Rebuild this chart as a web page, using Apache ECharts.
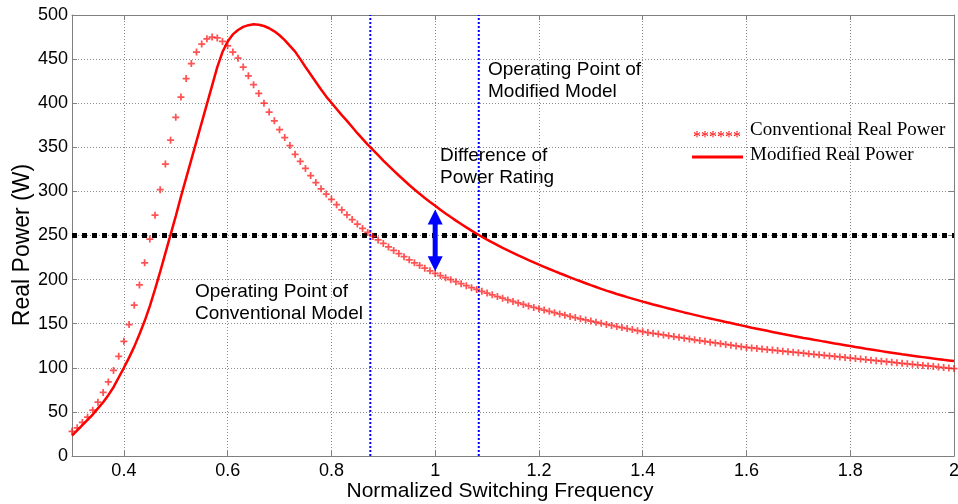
<!DOCTYPE html>
<html>
<head>
<meta charset="utf-8">
<script src="https://cdn.jsdelivr.net/npm/echarts@6/dist/echarts.min.js"></script>
<style>
  html, body { margin: 0; padding: 0; background: #fff; }
  #chart { width: 958px; height: 504px; }
</style>
</head>
<body>
<div id="chart"></div>
<script>
// Normalized switching frequency grid: 0.30 .. 2.00, one sample every 0.01
const FREQ_START = 0.30;
const FREQ_STEP = 0.01;

// Real power (W), conventional model, one value per frequency sample
const conventionalPower = [
  28, 32, 38, 44, 52, 61, 72, 84, 97, 113,
  130, 149, 171, 194, 219, 246, 273, 302, 331, 358,
  384, 407, 428, 445, 458, 467, 473, 475, 474, 470,
  465, 458, 451, 441, 431, 421, 411, 400, 390, 380,
  370, 361, 352, 342, 334, 326, 318, 310, 303, 297,
  291, 285, 279, 273.5, 268, 263, 258, 253.5, 249, 245,
  241, 237, 233, 229.5, 226, 222.5, 219, 216, 213, 210,
  207, 204.6, 202.2, 199.9, 197.6, 195.3, 193.1, 190.9, 188.8, 186.7,
  184.7, 182.7, 180.8, 178.9, 177.0, 175.2, 173.5, 171.8, 170.1, 168.5,
  167.0, 165.5, 164.0, 162.5, 161.1, 159.7, 158.3, 156.9, 155.6, 154.3,
  153.0, 151.7, 150.4, 149.2, 148.0, 146.8, 145.6, 144.5, 143.3, 142.1,
  141.0, 140.0, 139.1, 138.2, 137.3, 136.3, 135.4, 134.5, 133.6, 132.7,
  131.8, 130.9, 130.0, 129.1, 128.2, 127.4, 126.5, 125.6, 124.8, 123.9,
  123.1, 122.5, 121.9, 121.3, 120.7, 120.1, 119.5, 118.9, 118.3, 117.7,
  117.1, 116.5, 115.9, 115.3, 114.7, 114.1, 113.5, 112.9, 112.3, 111.7,
  111.1, 110.5, 109.9, 109.3, 108.7, 108.1, 107.5, 106.9, 106.3, 105.7,
  105.1, 104.5, 103.9, 103.3, 102.7, 102.1, 101.5, 100.9, 100.3, 99.7,
  99.1
];

// Real power (W), modified model, same frequency samples
const modifiedPower = [
  23, 29, 35, 41, 47, 54, 61, 69, 78, 89,
  100, 111.5, 124, 138, 153, 170, 189, 209, 230, 251,
  272, 294, 315, 336, 357, 378, 399, 420, 441, 458,
  470, 478, 483, 486.5, 488.5, 489.5, 489, 487.5, 485, 481.5,
  477, 471.5, 465, 458.5, 450, 441, 432.5, 424, 415.5, 407.5,
  400.5, 393.5, 386.5, 380, 373, 366, 359.5, 353, 347, 341,
  335, 329.2, 323.5, 318, 312.6, 307.3, 302.2, 297.3, 292.5, 288,
  283.6, 279.2, 275, 270.9, 266.9, 263, 259.2, 255.5, 252, 248.6,
  245.3, 242.1, 239, 236, 233.1, 230.3, 227.5, 224.8, 222.2, 219.6,
  217, 214.5, 212, 209.6, 207.2, 204.9, 202.6, 200.3, 198.1, 195.9,
  193.7, 191.6, 189.5, 187.5, 185.6, 183.7, 181.9, 180.1, 178.4, 176.7,
  175, 173.4, 171.8, 170.3, 168.8, 167.3, 165.8, 164.3, 162.8, 161.4,
  160.0, 158.6, 157.2, 155.9, 154.6, 153.3, 152.0, 150.7, 149.4, 148.1,
  146.8, 145.5, 144.3, 143.1, 141.9, 140.7, 139.5, 138.3, 137.2, 136.1,
  135.0, 133.9, 132.9, 131.8, 130.8, 129.7, 128.7, 127.6, 126.6, 125.6,
  124.6, 123.6, 122.7, 121.7, 120.8, 119.8, 118.9, 118.0, 117.1, 116.2,
  115.3, 114.5, 113.7, 112.9, 112.1, 111.3, 110.5, 109.8, 109.0, 108.3,
  107.6
];

const freqRange = [0.3, 2];
const xTicks = [0.4, 0.6, 0.8, 1, 1.2, 1.4, 1.6, 1.8, 2];
const ratedPower = 250;                 // required power rating (W)
const operatingFreqs = [0.875, 1.084];  // conventional / modified operating points
const gapFreq = 1.0;                    // where the rating difference is marked
const gapArrow = [218, 271];            // arrow ends (W)

const freq = conventionalPower.map((_, i) => +(FREQ_START + i * FREQ_STEP).toFixed(2));
const toPairs = ys => ys.map((y, i) => [freq[i], y]);

const SANS = '"Liberation Sans", Arial, Helvetica, sans-serif';
const SERIF = '"Liberation Serif", "Times New Roman", serif';
const axisGrey = '#7f7f7f';
const gridLine = { show: true, lineStyle: { color: '#8c8c8c', width: 1, type: [1, 2] } };
const tickStyle = { show: true, inside: true, length: 5, lineStyle: { color: axisGrey } };
const plusPath = 'path://M3,0H5V3H8V5H5V8H3V5H0V3H3Z';

const chart = echarts.init(document.getElementById('chart'), null, { renderer: 'canvas' });

const option = {
  animation: false,
  backgroundColor: '#fff',
  grid: { left: 72, right: 4, top: 15, bottom: 48, containLabel: false, outerBoundsMode: 'none' },
  xAxis: [
    {
      type: 'value', position: 'bottom', min: freqRange[0], max: freqRange[1],
      name: 'Normalized Switching Frequency', nameLocation: 'middle', nameGap: 25,
      nameMoveOverlap: false,
      nameTextStyle: { fontFamily: SANS, fontSize: 21, color: '#000', padding: [0, 26, 0, 0] },
      axisLine: { show: true, onZero: false, lineStyle: { color: axisGrey } },
      axisTick: Object.assign({ customValues: xTicks }, tickStyle),
      axisLabel: { customValues: xTicks, margin: 6, fontFamily: SANS, fontSize: 18, color: '#000' },
      splitLine: gridLine
    },
    {
      type: 'value', position: 'top', min: freqRange[0], max: freqRange[1],
      axisLine: { show: true, onZero: false, lineStyle: { color: axisGrey } },
      axisTick: Object.assign({ customValues: xTicks }, tickStyle),
      axisLabel: { show: false },
      splitLine: { show: false }
    }
  ],
  yAxis: [
    {
      type: 'value', position: 'left', min: 0, max: 500, interval: 50,
      name: 'Real Power (W)', nameLocation: 'middle', nameGap: 38,
      nameMoveOverlap: false,
      nameTextStyle: { fontFamily: SANS, fontSize: 23, color: '#000', padding: [0, 19, 0, 0] },
      axisLine: { show: true, onZero: false, lineStyle: { color: axisGrey } },
      axisTick: tickStyle,
      axisLabel: { margin: 4, fontFamily: SANS, fontSize: 18, color: '#000' },
      splitLine: gridLine
    },
    {
      type: 'value', position: 'right', min: 0, max: 500, interval: 50,
      axisLine: { show: true, onZero: false, lineStyle: { color: axisGrey } },
      axisTick: tickStyle,
      axisLabel: { show: false },
      splitLine: { show: false }
    }
  ],
  series: [
    {
      name: 'Rated Power', type: 'line', symbol: 'none', silent: true, z: 2,
      data: [[freqRange[0], ratedPower], [freqRange[1], ratedPower]],
      lineStyle: { color: '#000', width: 5, type: [5, 5], cap: 'butt' }
    },
    ...operatingFreqs.map(f => ({
      type: 'line', symbol: 'none', silent: true, z: 3,
      data: [[f, 0], [f, 500]],
      lineStyle: { color: '#0000ff', width: 2, type: [2, 2] }
    })),
    {
      name: 'Conventional Real Power', type: 'scatter', z: 4,
      symbol: plusPath, symbolSize: 7,
      itemStyle: { color: '#ff1a1a', opacity: 0.75 },
      data: toPairs(conventionalPower)
    },
    {
      name: 'Modified Real Power', type: 'line', symbol: 'none', showSymbol: false, z: 5,
      lineStyle: { color: '#ff0000', width: 2.5 },
      data: toPairs(modifiedPower)
    },
    {
      name: 'Difference', type: 'line', z: 6, silent: true,
      symbol: 'triangle', symbolSize: 15, showSymbol: true,
      itemStyle: { color: '#0000ff' },
      lineStyle: { color: '#0000ff', width: 5 },
      data: [
        { value: [gapFreq, gapArrow[0]], symbolRotate: 180 },
        { value: [gapFreq, gapArrow[1]] }
      ]
    }
  ],
  graphic: [
    { type: 'text', left: 488, top: 59, z: 10,
      style: { text: 'Operating Point of\nModified Model', font: '19px ' + SANS, lineHeight: 22, fill: '#000' } },
    { type: 'text', left: 440, top: 145, z: 10,
      style: { text: 'Difference of\nPower Rating', font: '19px ' + SANS, lineHeight: 22, fill: '#000' } },
    { type: 'text', left: 195, top: 281, z: 10,
      style: { text: 'Operating Point of\nConventional Model', font: '19px ' + SANS, lineHeight: 22, fill: '#000' } },
    // legend
    { type: 'text', left: 693, top: 130, z: 10,
      style: { text: '******', font: '16px ' + SERIF, lineHeight: 16, fill: '#ff0000' } },
    { type: 'line', z: 10, shape: { x1: 692, y1: 157, x2: 743, y2: 157 },
      style: { stroke: '#ff0000', lineWidth: 3 } },
    { type: 'text', left: 750, top: 119, z: 10,
      style: { text: 'Conventional Real Power', font: '19px ' + SERIF, lineHeight: 22, fill: '#000' } },
    { type: 'text', left: 750, top: 144, z: 10,
      style: { text: 'Modified Real Power', font: '19px ' + SERIF, lineHeight: 22, fill: '#000' } }
  ]
};

chart.setOption(option);
</script>
</body>
</html>
